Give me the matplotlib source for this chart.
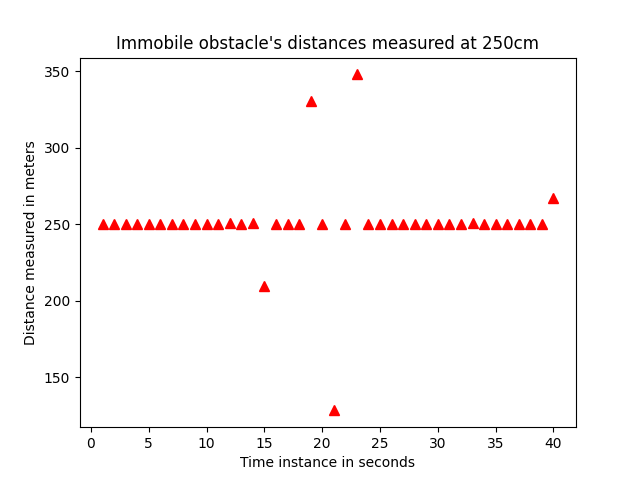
import matplotlib
matplotlib.use("Agg")
import matplotlib.pyplot as plt

seconds = list(range(1, 41))
distances = [250.5, 250.5, 250, 250.5, 250.5, 250.5, 250, 250.5, 250, 250.5,
             250, 251, 250, 251, 210, 250, 250.5, 250, 330.4, 250.5,
             128.4, 250.5, 348, 250.5, 250, 250.5, 250.5, 250, 250, 250,
             250, 250.5, 251, 250, 250, 250, 250, 250.5, 250.5, 267]

fig, ax = plt.subplots(figsize=(6.4, 4.8), dpi=100)
ax.plot(seconds, distances, "r^", markersize=7)
ax.set_title("Immobile obstacle's distances measured at 250cm")
ax.set_xlabel("Time instance in seconds")
ax.set_ylabel("Distance measured in meters")
fig.savefig("out.png")
